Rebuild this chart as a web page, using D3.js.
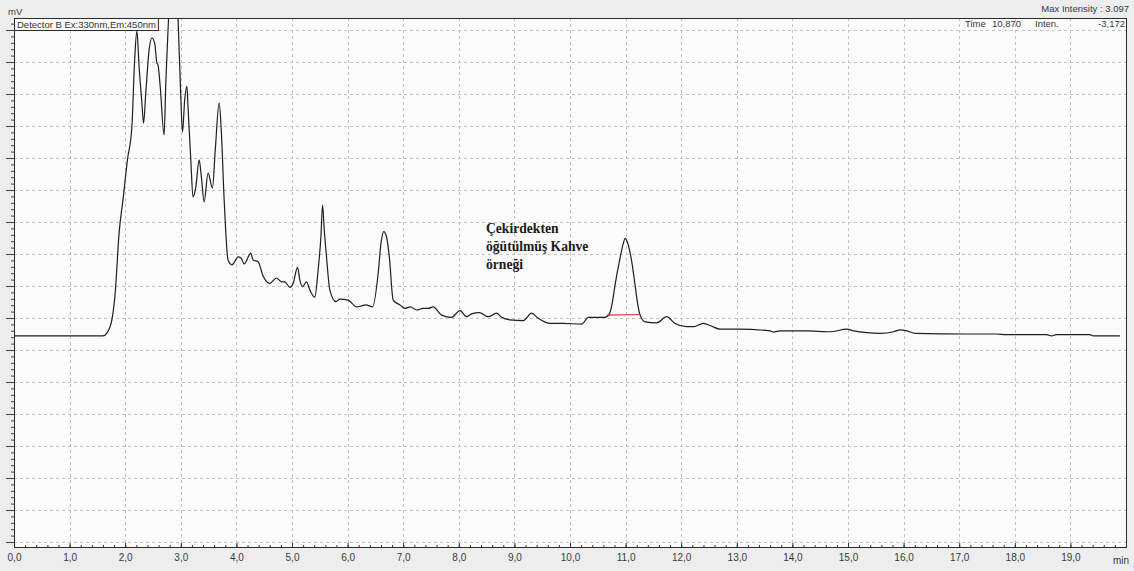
<!DOCTYPE html>
<html>
<head>
<meta charset="utf-8">
<script src="https://cdn.jsdelivr.net/npm/d3@7"></script>
<style>
  body { margin: 0; background: #ededed; }
  svg { display: block; font-family: "Liberation Sans", Arial, sans-serif; }
</style>
</head>
<body>
<svg id="chart" width="1134" height="571"></svg>
<script>
// retention time (min) and detector signal (mV)
const times = [0, 0.83, 1.60, 1.67, 1.76, 1.82, 1.89, 1.96, 2.04, 2.12, 2.17, 2.21, 2.25, 2.30, 2.33,
  2.37, 2.43, 2.48, 2.53, 2.57, 2.59, 2.63, 2.70, 2.73, 2.78, 2.82, 2.90, 2.95, 3.00, 3.03,
  3.07, 3.11, 3.13, 3.18, 3.22, 3.27, 3.33, 3.37, 3.42, 3.49, 3.57, 3.62, 3.69, 3.73, 3.78,
  3.85, 3.92, 3.97, 4.03, 4.08, 4.14, 4.26, 4.30, 4.39, 4.48, 4.60, 4.72, 4.81, 4.87, 4.96,
  5.02, 5.10, 5.14, 5.19, 5.26, 5.32, 5.41, 5.47, 5.52, 5.55, 5.58, 5.62, 5.68, 5.79, 5.86,
  6.01, 6.16, 6.25, 6.33, 6.45, 6.55, 6.60, 6.65, 6.70, 6.75, 6.82, 6.94, 7.03, 7.13, 7.24,
  7.36, 7.45, 7.54, 7.69, 7.87, 8.02, 8.14, 8.23, 8.37, 8.53, 8.68, 8.77, 8.92, 9.16, 9.31,
  9.43, 9.64, 9.88, 10.21, 10.33, 10.63, 10.71, 10.76, 10.81, 10.90, 10.96, 10.99, 11.03, 11.07,
  11.12, 11.17, 11.22, 11.26, 11.35, 11.56, 11.74, 11.89, 12.10, 12.22, 12.40, 12.54, 12.70,
  13.03, 13.60, 13.66, 13.78, 14.26, 14.68, 14.98, 15.10, 15.34, 15.58, 15.82, 15.94, 16.06,
  16.21, 17.13, 17.67, 17.85, 18.57, 18.66, 18.75, 19.35, 19.41, 19.89];
const signal = [6.44, 6.44, 6.44, 6.53, 6.94, 7.78, 9.66, 10.69, 11.94, 12.97, 15.06, 15.97, 14.85, 13.72, 13.09,
  14.03, 15.38, 15.75, 15.59, 14.97, 14.91, 14.22, 12.72, 14.34, 16.38, 18.2, 18.2, 16.38, 13.91, 12.81,
  13.81, 14.25, 13.59, 11.94, 10.78, 11.09, 11.94, 11.41, 10.63, 11.53, 11.06, 12.25, 13.72, 12.78, 10.69,
  8.81, 8.66, 8.76, 8.91, 8.88, 8.69, 9.03, 8.81, 8.76, 8.31, 8.08, 8.25, 8.13, 8.13, 7.96,
  8.08, 8.58, 8.19, 7.98, 8.13, 7.88, 7.65, 8.50, 9.54, 10.53, 9.75, 8.92, 7.88, 7.51, 7.59,
  7.56, 7.35, 7.38, 7.41, 7.35, 8.40, 9.33, 9.70, 9.54, 8.92, 7.56, 7.41, 7.30, 7.35, 7.25,
  7.30, 7.30, 7.35, 7.09, 7.02, 7.23, 7.04, 7.13, 7.17, 7.04, 7.15, 7.02, 6.94, 6.92, 7.15,
  6.99, 6.83, 6.83, 6.81, 7.02, 7.02, 7.13, 7.47, 8.03, 8.87, 9.34, 9.49, 9.38, 9.13,
  8.66, 8.03, 7.41, 7.09, 6.88, 6.85, 7.04, 6.83, 6.73, 6.73, 6.83, 6.75, 6.65,
  6.65, 6.60, 6.56, 6.60, 6.60, 6.57, 6.65, 6.60, 6.54, 6.52, 6.57, 6.63, 6.60,
  6.52, 6.50, 6.50, 6.48, 6.48, 6.44, 6.48, 6.48, 6.44, 6.44];

// integration baseline under the 10.9 min peak
const peakBaseTimes = [10.66, 11.27];
const peakBaseSignal = [7.09, 7.11];

const xTickValues = d3.range(0, 20, 1);
const xTickLabels = ["0,0", "1,0", "2,0", "3,0", "4,0", "5,0", "6,0", "7,0", "8,0", "9,0",
  "10,0", "11,0", "12,0", "13,0", "14,0", "15,0", "16,0", "17,0", "18,0", "19,0"];
const yGridValues = d3.range(0, 17, 1);
const noteLines = ["Çekirdekten", "öğütülmüş Kahve", "örneği"];

const svg = d3.select("#chart");
const plotLeft = 14, plotRight = 1127, plotTop = 18, plotBottom = 548;

const x = d3.scaleLinear().domain([0, 20]).range([plotLeft, 1126]);
const y = d3.scaleLinear().domain([-0.1875, 16.375]).range([plotBottom, plotTop]);

// plot background
svg.append("rect")
    .attr("x", plotLeft).attr("y", plotTop)
    .attr("width", plotRight - plotLeft).attr("height", plotBottom - plotTop)
    .attr("fill", "#fbfbfb");

svg.append("clipPath").attr("id", "plotClip")
    .append("rect")
    .attr("x", plotLeft).attr("y", plotTop)
    .attr("width", plotRight - plotLeft).attr("height", plotBottom - plotTop);

// dashed grid
let grid = svg.append("g")
    .attr("stroke", "#c3c3c3")
    .attr("stroke-dasharray", "3,3")
    .attr("stroke-width", 1);

grid.selectAll(".vgrid").data(xTickValues.slice(1))
    .enter().append("line")
    .attr("x1", d => Math.round(x(d)) + 0.5).attr("x2", d => Math.round(x(d)) + 0.5)
    .attr("y1", plotTop).attr("y2", plotBottom);

grid.selectAll(".hgrid").data(yGridValues)
    .enter().append("line")
    .attr("x1", plotLeft).attr("x2", plotRight)
    .attr("y1", d => Math.round(y(d)) + 0.5).attr("y2", d => Math.round(y(d)) + 0.5);

// chromatogram trace
let line = d3.line()
    .x(d => x(d[0]))
    .y(d => y(d[1]))
    .curve(d3.curveMonotoneX);

svg.append("path")
    .datum(d3.zip(times, signal))
    .attr("clip-path", "url(#plotClip)")
    .attr("d", line)
    .attr("fill", "none")
    .attr("stroke", "#1e1e1e")
    .attr("stroke-width", 1.2);

svg.append("path")
    .datum(d3.zip(peakBaseTimes, peakBaseSignal))
    .attr("d", d3.line().x(d => x(d[0])).y(d => y(d[1])))
    .attr("stroke", "#d2383a")
    .attr("stroke-width", 1.2)
    .attr("fill", "none");

// x axis: minor ticks every 0.2 min, major ticks with labels
let xMinor = d3.axisBottom(x)
    .tickValues(d3.range(0, 100).map(i => i * 0.2))
    .tickSize(-3)
    .tickFormat("");
svg.append("g")
    .attr("transform", "translate(0," + plotBottom + ")")
    .call(xMinor)
    .call(g => g.select(".domain").remove())
    .selectAll("line").attr("stroke", "#333");

let xMajor = d3.axisBottom(x)
    .tickValues(xTickValues)
    .tickSize(-5)
    .tickPadding(6)
    .tickFormat((d, i) => xTickLabels[i]);
svg.append("g")
    .attr("transform", "translate(0," + plotBottom + ")")
    .call(xMajor)
    .call(g => g.select(".domain").remove())
    .call(g => g.selectAll("line").attr("stroke", "#333"))
    .call(g => g.selectAll("text")
        .attr("fill", "#3a3a3a")
        .style("font-size", "10px")
        .style("font-family", "'Liberation Sans', Arial, sans-serif"));

svg.append("text")
    .attr("x", 1129).attr("y", 564)
    .attr("text-anchor", "end")
    .attr("fill", "#3a3a3a")
    .style("font-size", "10px")
    .text("min");

// y axis: minor ticks, no readable labels
let yMinor = d3.axisLeft(y)
    .tickValues(d3.range(0, 82).map(i => i * 0.2))
    .tickSize(3)
    .tickFormat("");
svg.append("g")
    .attr("transform", "translate(" + plotLeft + ",0)")
    .call(yMinor)
    .call(g => g.select(".domain").remove())
    .selectAll("line").attr("stroke", "#444");

let yMajor = d3.axisLeft(y)
    .tickValues(yGridValues)
    .tickSize(8)
    .tickFormat("");
svg.append("g")
    .attr("transform", "translate(" + plotLeft + ",0)")
    .call(yMajor)
    .call(g => g.select(".domain").remove())
    .selectAll("line").attr("stroke", "#444");

// frame
svg.append("rect")
    .attr("x", plotLeft + 0.5).attr("y", plotTop + 0.5)
    .attr("width", plotRight - plotLeft - 1).attr("height", plotBottom - plotTop - 1)
    .attr("fill", "none")
    .attr("stroke", "#2a2a2a")
    .attr("stroke-width", 1);

// header texts
svg.append("text")
    .attr("x", 8).attr("y", 15)
    .attr("fill", "#3a3a3a")
    .style("font-size", "9.5px")
    .text("mV");

svg.append("text")
    .attr("x", 1129).attr("y", 12)
    .attr("text-anchor", "end")
    .attr("fill", "#3a3a3a")
    .style("font-size", "9.5px")
    .text("Max Intensity :  3.097");

let info = svg.append("g")
    .attr("fill", "#3a3a3a")
    .style("font-size", "9.5px");
info.append("text").attr("x", 965).attr("y", 27).text("Time");
info.append("text").attr("x", 992).attr("y", 27).text("10,870");
info.append("text").attr("x", 1035).attr("y", 27).text("Inten.");
info.append("text").attr("x", 1125).attr("y", 27).attr("text-anchor", "end").text("-3,172");

// detector label box
let det = svg.append("g");
let detBox = det.append("rect")
    .attr("x", plotLeft + 0.5).attr("y", plotTop + 0.5)
    .attr("height", 12)
    .attr("fill", "#fbfbfb")
    .attr("stroke", "#2a2a2a");
let detText = det.append("text")
    .attr("x", 17).attr("y", 27.5)
    .attr("fill", "#333")
    .style("font-size", "9.5px")
    .text("Detector B Ex:330nm,Em:450nm");
detBox.attr("width", detText.node().getComputedTextLength() + 5);

// sample note
svg.append("g")
    .selectAll("text")
    .data(noteLines)
    .enter().append("text")
    .attr("x", 486)
    .attr("y", (d, i) => 233 + i * 18)
    .attr("fill", "#1a1a1a")
    .style("font-family", "'Liberation Serif', 'Times New Roman', serif")
    .style("font-weight", "bold")
    .style("font-size", "13.6px")
    .text(d => d);
</script>
</body>
</html>
